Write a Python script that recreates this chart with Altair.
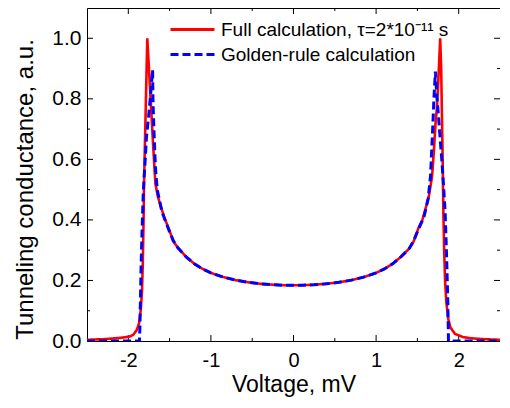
import altair as alt
import pandas as pd

FONT = "Liberation Sans"

full_label = "Full calculation, τ=2*10⁻¹¹ s"
golden_label = "Golden-rule calculation"
series_labels = [full_label, golden_label]
series_colors = ["#ff0000", "#0000ff"]

# Full calculation (red)
red_voltage = [
    -2.50, -2.30, -2.15, -2.05, -1.98, -1.94, -1.90, -1.87, -1.85, -1.835,
    -1.825, -1.815, -1.81, -1.80, -1.79, -1.78, -1.77, -1.76, -1.74, -1.72,
    -1.70, -1.672, -1.64, -1.61, -1.56, -1.514, -1.456, -1.40, -1.30, -1.20,
    -1.10, -1.00, -0.85, -0.70, -0.55, -0.40, -0.25, -0.10, 0.00,
    0.10, 0.25, 0.40, 0.55, 0.70, 0.85, 1.00, 1.10, 1.20, 1.30,
    1.40, 1.456, 1.514, 1.56, 1.61, 1.64, 1.678, 1.70, 1.72, 1.736,
    1.76, 1.776, 1.788, 1.796, 1.804, 1.815, 1.825, 1.835, 1.85, 1.874,
    1.90, 1.953, 2.05, 2.15, 2.30, 2.50,
]
red_conductance = [
    0.004, 0.006, 0.009, 0.012, 0.015, 0.021, 0.035, 0.058, 0.100, 0.160,
    0.250, 0.400, 0.513, 0.635, 0.757, 0.880, 1.000, 0.950, 0.850, 0.750,
    0.650, 0.520, 0.475, 0.448, 0.405, 0.374, 0.330, 0.308, 0.278, 0.255,
    0.238, 0.225, 0.211, 0.201, 0.194, 0.189, 0.186, 0.184, 0.184,
    0.184, 0.186, 0.189, 0.194, 0.201, 0.211, 0.225, 0.238, 0.255, 0.278,
    0.305, 0.330, 0.374, 0.400, 0.448, 0.480, 0.545, 0.630, 0.720, 0.770,
    0.900, 1.000, 0.900, 0.760, 0.632, 0.416, 0.290, 0.200, 0.130, 0.072,
    0.045, 0.024, 0.013, 0.009, 0.006, 0.004,
]

# Golden-rule calculation (blue dashed)
blue_voltage = [
    -2.50, -1.865, -1.860, -1.852, -1.845, -1.835, -1.82, -1.81, -1.795, -1.78,
    -1.755, -1.73, -1.706, -1.70, -1.69, -1.68, -1.67, -1.65, -1.593, -1.514,
    -1.456, -1.40, -1.30, -1.20, -1.10, -1.00, -0.85, -0.70, -0.55, -0.40,
    -0.25, -0.10, 0.00, 0.10, 0.25, 0.40, 0.55, 0.70, 0.85, 1.00,
    1.10, 1.20, 1.30, 1.40, 1.456, 1.514, 1.58, 1.63, 1.659, 1.686,
    1.70, 1.718, 1.735, 1.756, 1.775, 1.795, 1.815, 1.835, 1.854, 1.868,
    1.874, 1.876, 2.50,
]
blue_conductance = [
    0.0, 0.0, 0.04, 0.15, 0.25, 0.35, 0.48, 0.535, 0.60, 0.674,
    0.739, 0.814, 0.895, 0.78, 0.70, 0.63, 0.567, 0.50, 0.427, 0.370,
    0.332, 0.308, 0.278, 0.255, 0.238, 0.225, 0.211, 0.201, 0.194, 0.189,
    0.186, 0.184, 0.184, 0.184, 0.186, 0.189, 0.194, 0.201, 0.211, 0.225,
    0.238, 0.255, 0.278, 0.305, 0.332, 0.370, 0.410, 0.470, 0.545, 0.706,
    0.800, 0.890, 0.810, 0.740, 0.670, 0.600, 0.520, 0.430, 0.276, 0.130,
    0.040, 0.0, 0.0,
]

x_major = [-2, -1, 0, 1, 2]
x_minor = [-1.5, -0.5, 0.5, 1.5]
y_major = [0.0, 0.2, 0.4, 0.6, 0.8, 1.0]
y_minor = [0.1, 0.3, 0.5, 0.7, 0.9]

W, H = 413, 333
MAJOR, MINOR = 6, 3

red_df = pd.DataFrame({"V": red_voltage, "G": red_conductance, "series": full_label})
blue_df = pd.DataFrame({"V": blue_voltage, "G": blue_conductance, "series": golden_label})

x_scale = alt.Scale(domain=[-2.5, 2.5], nice=False, zero=False)
y_scale = alt.Scale(domain=[0, 1.1], nice=False, zero=False)

x_axis = alt.Axis(
    values=x_major, labelExpr="toString(datum.value)", title="Voltage, mV",
    labelFontSize=20, titleFontSize=23, labelPadding=9,
    titleY=50, titleBaseline="alphabetic",
    tickSize=0, ticks=False, domain=False, grid=False,
)
y_axis = alt.Axis(
    values=y_major, format=".1f", title="Tunneling conductance, a.u.",
    labelFontSize=21, titleFontSize=24, labelPadding=6, titlePadding=14,
    titleY=181, tickSize=0, ticks=False, domain=False, grid=False,
)

legend = alt.Legend(
    title=None, orient="none", legendX=104, legendY=9,
    symbolType="M-3,0H1", symbolSize=484, symbolStrokeWidth=3,
    labelFontSize=19, labelFont=FONT, labelColor="black", labelOffset=5,
    rowPadding=2, padding=0, symbolOffset=0, labelLimit=400,
)
color = alt.Color("series:N", scale=alt.Scale(domain=series_labels, range=series_colors), legend=legend)
dash = alt.StrokeDash("series:N", scale=alt.Scale(domain=series_labels, range=[[1, 0], [8, 4]]), legend=legend)


def tick_layer(vals, orient, length):
    if orient in ("bottom", "top"):
        df = pd.DataFrame({"V": vals})
        if orient == "bottom":
            enc = dict(y=alt.value(H), y2=alt.value(H - length))
        else:
            enc = dict(y=alt.value(0), y2=alt.value(length))
        return alt.Chart(df).mark_rule(color="black", strokeWidth=1).encode(
            x=alt.X("V:Q", scale=x_scale, axis=x_axis), **enc)
    df = pd.DataFrame({"G": vals})
    if orient == "left":
        enc = dict(x=alt.value(0), x2=alt.value(length))
    else:
        enc = dict(x=alt.value(W), x2=alt.value(W - length))
    return alt.Chart(df).mark_rule(color="black", strokeWidth=1).encode(
        y=alt.Y("G:Q", scale=y_scale, axis=y_axis), **enc)


ticks = [
    tick_layer(x_major, "bottom", MAJOR), tick_layer(x_minor, "bottom", MINOR),
    tick_layer(x_major, "top", MAJOR), tick_layer(x_minor, "top", MINOR),
    tick_layer(y_major, "left", MAJOR), tick_layer(y_minor, "left", MINOR),
    tick_layer(y_major, "right", MAJOR), tick_layer(y_minor, "right", MINOR),
]

red = alt.Chart(red_df).mark_line(strokeWidth=2.6, clip=True).encode(
    x=alt.X("V:Q", scale=x_scale, axis=x_axis),
    y=alt.Y("G:Q", scale=y_scale, axis=y_axis),
    color=color, strokeDash=dash, order="V:Q",
)
blue = alt.Chart(blue_df).mark_line(strokeWidth=3, clip=True).encode(
    x=alt.X("V:Q", scale=x_scale, axis=x_axis),
    y=alt.Y("G:Q", scale=y_scale, axis=y_axis),
    color=color, strokeDash=dash,
)

chart = alt.layer(*ticks, red, blue).properties(
    width=W, height=H,
    autosize=alt.AutoSizeParams(type="none"),
    padding={"left": 79, "top": 0, "right": 0, "bottom": 57},
).configure_view(
    stroke="black", strokeWidth=1,
).configure_axis(
    labelFont=FONT, titleFont=FONT, labelColor="black", titleColor="black",
    titleFontWeight="normal",
).configure_legend(
    labelFont=FONT,
)

chart.save("out.html", embed_options={"renderer": "svg", "actions": False})
